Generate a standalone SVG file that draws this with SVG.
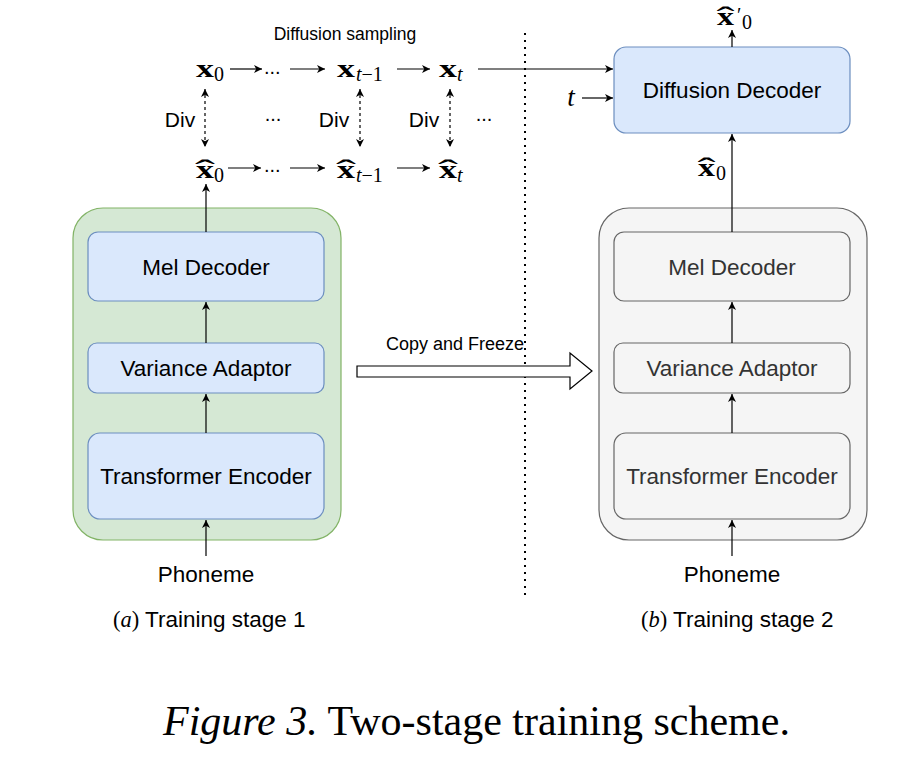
<svg xmlns="http://www.w3.org/2000/svg" width="908" height="768" viewBox="0 0 908 768">
<style>
.bg{fill:#ffffff}
.blue{fill:#dae8fc;stroke:#6c8ebf;stroke-width:1.2}
.gray{fill:#f5f5f5;stroke:#666666;stroke-width:1.2}
.green{fill:#d5e8d4;stroke:#82b366;stroke-width:1.2}
.lbl{font-family:"Liberation Sans",Arial,sans-serif;font-size:22.5px;text-anchor:middle;fill:#000}
.lblg{fill:#333333}
.div{font-family:"Liberation Sans",Arial,sans-serif;font-size:21px;text-anchor:middle;fill:#000}
.sm{font-family:"Liberation Sans",Arial,sans-serif;font-size:18px;fill:#000}
.mx{font-family:"Liberation Serif","Times New Roman",serif;font-weight:bold;font-size:26px;fill:#000}
.sub{font-family:"Liberation Serif","Times New Roman",serif;font-size:20px;fill:#000}
.hat{font-family:"Liberation Serif","Times New Roman",serif;font-size:30px;text-anchor:middle;fill:#000}
.it{font-style:italic}
.ln{stroke:#000;stroke-width:1.2;fill:none}
.dash{stroke:#000;stroke-width:1.2;fill:none;stroke-dasharray:3 3}
.dots{stroke:#000;stroke-width:2;fill:none;stroke-dasharray:2 5}
.cap{font-family:"Liberation Serif","Times New Roman",serif;font-size:42px;fill:#000}
</style>
<defs>
<marker id="ah" markerUnits="userSpaceOnUse" markerWidth="10" markerHeight="8" refX="8" refY="4" orient="auto-start-reverse">
<path d="M0,0 L8,4 L0,8 L2.2,4 z" fill="#000"/>
</marker>
</defs>
<rect class="bg" x="0" y="0" width="908" height="768"/>

<g id="stage1">
<rect class="green" x="73" y="208" width="268" height="332" rx="30"/>
</g>
<g id="mel1"><rect class="blue" x="88" y="232" width="236" height="69" rx="10"/><text class="lbl" x="206" y="274.5">Mel Decoder</text></g>
<g id="va1"><rect class="blue" x="88" y="343" width="236" height="50" rx="9"/><text class="lbl" x="206" y="376">Variance Adaptor</text></g>
<g id="te1"><rect class="blue" x="88" y="433" width="236" height="86" rx="12"/><text class="lbl" x="206" y="484">Transformer Encoder</text></g>
<g id="ph1"><text class="lbl" x="206" y="582">Phoneme</text></g>

<g id="stage2">
<rect class="gray" x="599" y="208" width="268" height="332" rx="30"/>
</g>
<g id="mel2"><rect class="gray" x="614" y="232" width="236" height="69" rx="10"/><text class="lbl lblg" x="732" y="274.5">Mel Decoder</text></g>
<g id="va2"><rect class="gray" x="614" y="343" width="236" height="50" rx="9"/><text class="lbl lblg" x="732" y="376">Variance Adaptor</text></g>
<g id="te2"><rect class="gray" x="614" y="433" width="236" height="86" rx="12"/><text class="lbl lblg" x="732" y="484">Transformer Encoder</text></g>
<g id="ph2"><text class="lbl" x="732" y="582">Phoneme</text></g>

<g id="dd"><rect class="blue" x="614" y="47" width="236" height="86" rx="12"/><text class="lbl" x="732" y="98">Diffusion Decoder</text></g>

<g id="math">
<text class="sm" x="345" y="40" text-anchor="middle" style="font-size:17.5px">Diffusion sampling</text>
<!-- top row -->
<text class="mx" x="196" y="77" textLength="18" lengthAdjust="spacingAndGlyphs">x</text><text class="sub" x="214" y="81">0</text>
<text class="sm" x="264" y="74" style="font-size:20px">...</text>
<text class="mx" x="337" y="77" textLength="18" lengthAdjust="spacingAndGlyphs">x</text><text class="sub" x="356" y="81"><tspan class="it">t</tspan>−1</text>
<text class="mx" x="439" y="77" textLength="18" lengthAdjust="spacingAndGlyphs">x</text><text class="sub it" x="457" y="81">t</text>
<!-- middle -->
<text class="div" x="180" y="127">Div</text>
<text class="div" x="334" y="127">Div</text>
<text class="div" x="424" y="127">Div</text>
<text class="sm" x="273" y="121" text-anchor="middle" style="font-size:20px">...</text>
<text class="sm" x="484" y="121" text-anchor="middle" style="font-size:20px">...</text>
<!-- bottom row -->
<text class="mx" x="196" y="178" textLength="18" lengthAdjust="spacingAndGlyphs">x</text><text class="sub" x="214" y="182">0</text>
<text class="hat" transform="translate(205,180) scale(2,1)">ˆ</text>
<text class="sm" x="264" y="172" style="font-size:20px">...</text>
<text class="mx" x="337" y="178" textLength="18" lengthAdjust="spacingAndGlyphs">x</text><text class="sub" x="356" y="182"><tspan class="it">t</tspan>−1</text>
<text class="hat" transform="translate(346,180) scale(2,1)">ˆ</text>
<text class="mx" x="439" y="178" textLength="18" lengthAdjust="spacingAndGlyphs">x</text><text class="sub it" x="457" y="182">t</text>
<text class="hat" transform="translate(448,180) scale(2,1)">ˆ</text>
<!-- right side -->
<text class="it" x="571" y="106" text-anchor="middle" style="font-family:'Liberation Serif',serif;font-size:27px">t</text>
<text class="mx" x="698" y="176" textLength="17" lengthAdjust="spacingAndGlyphs">x</text><text class="sub" x="716" y="180">0</text>
<text class="hat" transform="translate(706.5,178) scale(1.8,1)">ˆ</text>
<text class="mx" x="717" y="25" textLength="17" lengthAdjust="spacingAndGlyphs">x</text><text class="sub" x="737" y="22">′</text><text class="sub" x="742" y="29">0</text>
<text class="hat" transform="translate(725.5,27) scale(1.8,1)">ˆ</text>
</g>

<g id="captions">
<text class="lbl" x="113" y="627" style="text-anchor:start"><tspan style="font-family:'Liberation Serif',serif">(</tspan><tspan style="font-family:'Liberation Serif',serif;font-style:italic">a</tspan><tspan style="font-family:'Liberation Serif',serif">)</tspan> Training stage 1</text>
<text class="lbl" x="641" y="627" style="text-anchor:start"><tspan style="font-family:'Liberation Serif',serif">(</tspan><tspan style="font-family:'Liberation Serif',serif;font-style:italic">b</tspan><tspan style="font-family:'Liberation Serif',serif">)</tspan> Training stage 2</text>
<text class="cap" x="163" y="735"><tspan class="it">Figure 3.</tspan> Two-stage training scheme.</text>
</g>

<g id="connectors">
<line class="dots" x1="525" y1="33" x2="525" y2="600"/>
<line class="ln" x1="230" y1="69" x2="262" y2="69" marker-end="url(#ah)"/>
<line class="ln" x1="290" y1="69" x2="325" y2="69" marker-end="url(#ah)"/>
<line class="ln" x1="397" y1="69" x2="430" y2="69" marker-end="url(#ah)"/>
<line class="ln" x1="478" y1="69" x2="613" y2="69" marker-end="url(#ah)"/>
<line class="ln" x1="228" y1="168" x2="261" y2="168" marker-end="url(#ah)"/>
<line class="ln" x1="290" y1="168" x2="325" y2="168" marker-end="url(#ah)"/>
<line class="ln" x1="397" y1="168" x2="430" y2="168" marker-end="url(#ah)"/>
<line class="dash" x1="205" y1="89" x2="205" y2="147" marker-start="url(#ah)" marker-end="url(#ah)"/>
<line class="dash" x1="360" y1="89" x2="360" y2="147" marker-start="url(#ah)" marker-end="url(#ah)"/>
<line class="dash" x1="450" y1="89" x2="450" y2="147" marker-start="url(#ah)" marker-end="url(#ah)"/>
<line class="ln" x1="582" y1="98" x2="613" y2="98" marker-end="url(#ah)"/>
<line class="ln" x1="732" y1="47" x2="732" y2="30" marker-end="url(#ah)"/>
<line class="ln" x1="732" y1="232" x2="732" y2="134" marker-end="url(#ah)"/>
<line class="ln" x1="206" y1="232" x2="206" y2="184" marker-end="url(#ah)"/>
<line class="ln" x1="206" y1="343" x2="206" y2="302" marker-end="url(#ah)"/>
<line class="ln" x1="206" y1="433" x2="206" y2="394" marker-end="url(#ah)"/>
<line class="ln" x1="206" y1="556" x2="206" y2="520" marker-end="url(#ah)"/>
<line class="ln" x1="732" y1="343" x2="732" y2="302" marker-end="url(#ah)"/>
<line class="ln" x1="732" y1="433" x2="732" y2="394" marker-end="url(#ah)"/>
<line class="ln" x1="732" y1="556" x2="732" y2="520" marker-end="url(#ah)"/>
<polygon points="357,366 570,366 570,353 592,371 570,389 570,377 357,377" fill="#fff" stroke="#000" stroke-width="1.2"/>
<text class="sm" x="455" y="350" text-anchor="middle">Copy and Freeze</text>
</g>
</svg>
